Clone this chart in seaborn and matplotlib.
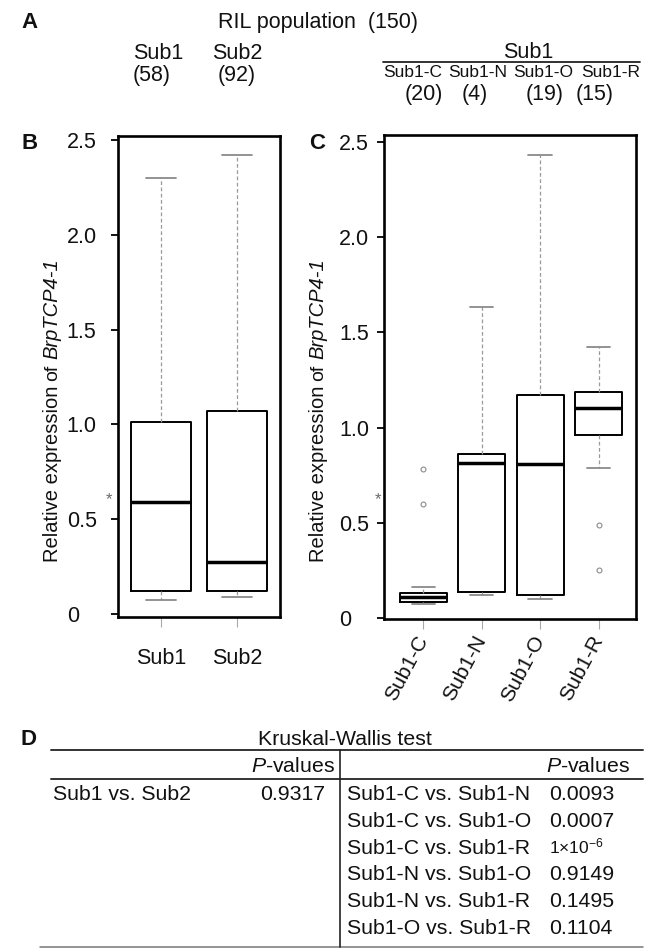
import numpy as np
import pandas as pd
import matplotlib
matplotlib.use("Agg")
import matplotlib.pyplot as plt
import seaborn as sns
from matplotlib.lines import Line2D

# ---------------- data ----------------
total_n = 150
groups = ["Sub1", "Sub2"]
group_n = [58, 92]
subgroups = ["Sub1-C", "Sub1-N", "Sub1-O", "Sub1-R"]
subgroup_n = [20, 4, 19, 15]

# box statistics: lower whisker, Q1, median, Q3, upper whisker, outliers
group_low = [0.07, 0.09]
group_q1 = [0.12, 0.12]
group_med = [0.59, 0.27]
group_q3 = [1.01, 1.07]
group_high = [2.30, 2.42]
group_out = [[], []]

sub_low = [0.075, 0.12, 0.10, 0.79]
sub_q1 = [0.082, 0.135, 0.122, 0.96]
sub_med = [0.112, 0.815, 0.806, 1.10]
sub_q3 = [0.131, 0.86, 1.17, 1.186]
sub_high = [0.163, 1.633, 2.43, 1.423]
sub_out = [[0.60, 0.78], [], [], [0.25, 0.49]]

ytick_vals = [0, 0.5, 1.0, 1.5, 2.0, 2.5]
ytick_labels = ["0", "0.5", "1.0", "1.5", "2.0", "2.5"]

kw_title = "Kruskal-Wallis test"
kw_left_pairs = ["Sub1 vs. Sub2"]
kw_left_p = ["0.9317"]
kw_right_pairs = ["Sub1-C vs. Sub1-N", "Sub1-C vs. Sub1-O", "Sub1-C vs. Sub1-R",
                  "Sub1-N vs. Sub1-O", "Sub1-N vs. Sub1-R", "Sub1-O vs. Sub1-R"]
kw_right_p = ["0.0093", "0.0007", "1×10^-6", "0.9149", "0.1495", "0.1104"]


def box_sample(lo, q1, med, q3, hi, out):
    # sample whose quartiles / whiskers reproduce the box statistics
    return [lo, q1, q1, q1, med, med, med, q3, q3, q3, hi] + list(out)


def make_df(names, lo, q1, med, q3, hi, out):
    rows = []
    for i, nm in enumerate(names):
        for v in box_sample(lo[i], q1[i], med[i], q3[i], hi[i], out[i]):
            rows.append((nm, v))
    return pd.DataFrame(rows, columns=["group", "value"])


dfB = make_df(groups, group_low, group_q1, group_med, group_q3, group_high, group_out)
dfC = make_df(subgroups, sub_low, sub_q1, sub_med, sub_q3, sub_high, sub_out)

# ---------------- style ----------------
sns.set_style("white")
plt.rcParams["font.family"] = ["Liberation Sans", "DejaVu Sans"]
plt.rcParams["mathtext.fontset"] = "custom"
plt.rcParams["mathtext.rm"] = "Liberation Sans"
plt.rcParams["mathtext.it"] = "Liberation Sans:italic"
plt.rcParams["mathtext.bf"] = "Liberation Sans:bold"

W, H = 656, 948


def fx(x):
    return x / W


def fy(y):
    return 1 - y / H


fig = plt.figure(figsize=(W / 100, H / 100), dpi=100)
fig.patch.set_facecolor("white")

axB = fig.add_axes([fx(118), fy(617), (280 - 118) / W, (617 - 136) / H])
axC = fig.add_axes([fx(384), fy(619), (636 - 384) / W, (619 - 135) / H])

box_kw = dict(
    fill=False, color="black", linewidth=1.4, whis=1.5,
    boxprops=dict(color="black", linewidth=1.4),
    medianprops=dict(color="black", linewidth=2.5),
    whiskerprops=dict(color="#9a9a9a", linewidth=0.9, linestyle=(0, (3, 2))),
    capprops=dict(color="#8a8a8a", linewidth=1.3),
    flierprops=dict(marker="o", markersize=3.5, markerfacecolor="none",
                    markeredgecolor="#8a8a8a", markeredgewidth=0.8),
)

sns.boxplot(data=dfB, x="group", y="value", order=groups, ax=axB, width=0.79, **box_kw)
sns.boxplot(data=dfC, x="group", y="value", order=subgroups, ax=axC, width=0.80, **box_kw)

axB.set_xlim(-0.566, 1.566)
axB.set_ylim(-0.018, 2.523)
axC.set_xlim(-0.672, 3.64)
axC.set_ylim(-0.006, 2.537)

for ax, names, ypad in ((axB, groups, 31.9), (axC, subgroups, 27.4)):
    ax.set_xlabel("")
    ax.set_ylabel("")
    for sp in ax.spines.values():
        sp.set_visible(True)
        sp.set_color("black")
        sp.set_linewidth(1.9)
    ax.set_yticks(ytick_vals)
    ax.set_yticklabels(ytick_labels)
    ax.set_xticks(range(len(names)))
    ax.set_xticklabels(names)
    ax.tick_params(axis="y", left=True, length=5, width=1.3, color="black",
                   direction="out", pad=ypad, labelsize=15.5, labelcolor="#111111")
    plt.setp(ax.get_yticklabels(), ha="left")
    ax.set_facecolor("white")
    ax.grid(False)

axB.tick_params(axis="x", bottom=True, length=7, width=0.8, color="#a8a8a8",
                direction="out", pad=15, labelsize=15.5, labelcolor="#111111")
axC.tick_params(axis="x", bottom=True, length=7, width=0.8, color="#a8a8a8",
                direction="out", pad=6, labelsize=15, labelcolor="#111111")
plt.setp(axC.get_xticklabels(), rotation=62, ha="right", va="center",
         rotation_mode="anchor")

# ---------------- panel A header ----------------
tc = "#111111"
fs_big = 15.5
fig.text(fx(29), fy(28), "A", fontsize=16, fontweight="bold", ha="center", va="baseline", color=tc)
fig.text(fx(318), fy(28), f"RIL population  ({total_n})", fontsize=fs_big,
         ha="center", va="baseline", color=tc)
for lx_name, lx_n, nm, n in zip([133, 212], [133, 218], groups, group_n):
    fig.text(fx(lx_name), fy(59), nm, fontsize=fs_big, ha="left", va="baseline", color=tc)
    fig.text(fx(lx_n), fy(81), f"({n})", fontsize=fs_big, ha="left", va="baseline", color=tc)

fig.text(fx(528), fy(58), groups[0], fontsize=fs_big, ha="center", va="baseline", color=tc)
fig.add_artist(Line2D([fx(383), fx(640)], [fy(61.5), fy(61.5)], color="#222222", lw=1.3))
sub_cx = [412.5, 478, 543.5, 610.5]
n_cx = [423.5, 474.5, 545, 595]
for cx, nm in zip(sub_cx, subgroups):
    fig.text(fx(cx), fy(77), nm, fontsize=12.5, ha="center", va="baseline", color=tc)
for cx, n in zip(n_cx, subgroup_n):
    fig.text(fx(cx), fy(100), f"({n})", fontsize=fs_big, ha="center", va="baseline", color=tc)

# ---------------- panel letters and artefacts ----------------
fig.text(fx(30), fy(149), "B", fontsize=16, fontweight="bold", ha="center", va="baseline", color=tc)
fig.text(fx(317), fy(149), "C", fontsize=16, fontweight="bold", ha="center", va="baseline", color=tc)
fig.text(fx(29), fy(745), "D", fontsize=16, fontweight="bold", ha="center", va="baseline", color=tc)
for ax_x in (109, 378):
    fig.text(fx(ax_x), fy(500), "*", fontsize=12, ha="center", va="center", color="#6a6a6a")

# ---------------- y labels ----------------
ylab_parts = []
for base_x in (57.5, 323.5):
    t1 = fig.text(fx(base_x), fy(562), "Relative expression", fontsize=14.5,
                  rotation=90, rotation_mode="anchor", ha="left", va="baseline", color=tc)
    ylab_parts.append((base_x, t1))

fig.canvas.draw()
renderer = fig.canvas.get_renderer()
for base_x, t1 in ylab_parts:
    bb = t1.get_window_extent(renderer)
    t2 = fig.text(fx(base_x), (bb.y1 + 5) / H, "of", fontsize=14, rotation=90,
                  rotation_mode="anchor", ha="left", va="baseline", color=tc)
    bb2 = t2.get_window_extent(renderer)
    fig.text(fx(base_x), (bb2.y1 + 5) / H, "BrpTCP4-1", fontsize=14.5, style="italic",
             rotation=90, rotation_mode="anchor", ha="left", va="baseline", color=tc)

# ---------------- panel D table ----------------
fs_t = 15.3
fig.text(fx(345), fy(745), kw_title, fontsize=fs_t, ha="center", va="baseline", color=tc)
fig.add_artist(Line2D([fx(51), fx(643)], [fy(750), fy(750)], color="#333333", lw=1.4))
fig.add_artist(Line2D([fx(51), fx(643)], [fy(779), fy(779)], color="#333333", lw=1.4))
fig.add_artist(Line2D([fx(40), fx(643)], [fy(947), fy(947)], color="#777777", lw=1.1))
fig.add_artist(Line2D([fx(340), fx(340)], [fy(750), fy(947)], color="#222222", lw=1.2))
fig.text(fx(335), fy(772), r"$P$-values", fontsize=fs_t, ha="right", va="baseline", color=tc)
fig.text(fx(630), fy(772), r"$P$-values", fontsize=fs_t, ha="right", va="baseline", color=tc)

row_base = [800 + 26.8 * i for i in range(len(kw_right_pairs))]
for i, (pair, p) in enumerate(zip(kw_left_pairs, kw_left_p)):
    fig.text(fx(53), fy(row_base[i]), pair, fontsize=fs_t, ha="left", va="baseline", color=tc)
    fig.text(fx(325), fy(row_base[i]), p, fontsize=fs_t, ha="right", va="baseline", color=tc)
for i, (pair, p) in enumerate(zip(kw_right_pairs, kw_right_p)):
    fig.text(fx(347), fy(row_base[i]), pair, fontsize=fs_t, ha="left", va="baseline", color=tc)
    if "^" in p:
        mant, expo = p.split("^")
        fig.text(fx(549), fy(row_base[i]), mant + r"$^{" + expo + "}$",
                 fontsize=12.5, ha="left", va="baseline", color=tc)
    else:
        fig.text(fx(549), fy(row_base[i]), p, fontsize=fs_t, ha="left", va="baseline", color=tc)

fig.savefig("out.png", dpi=100, facecolor="white")
